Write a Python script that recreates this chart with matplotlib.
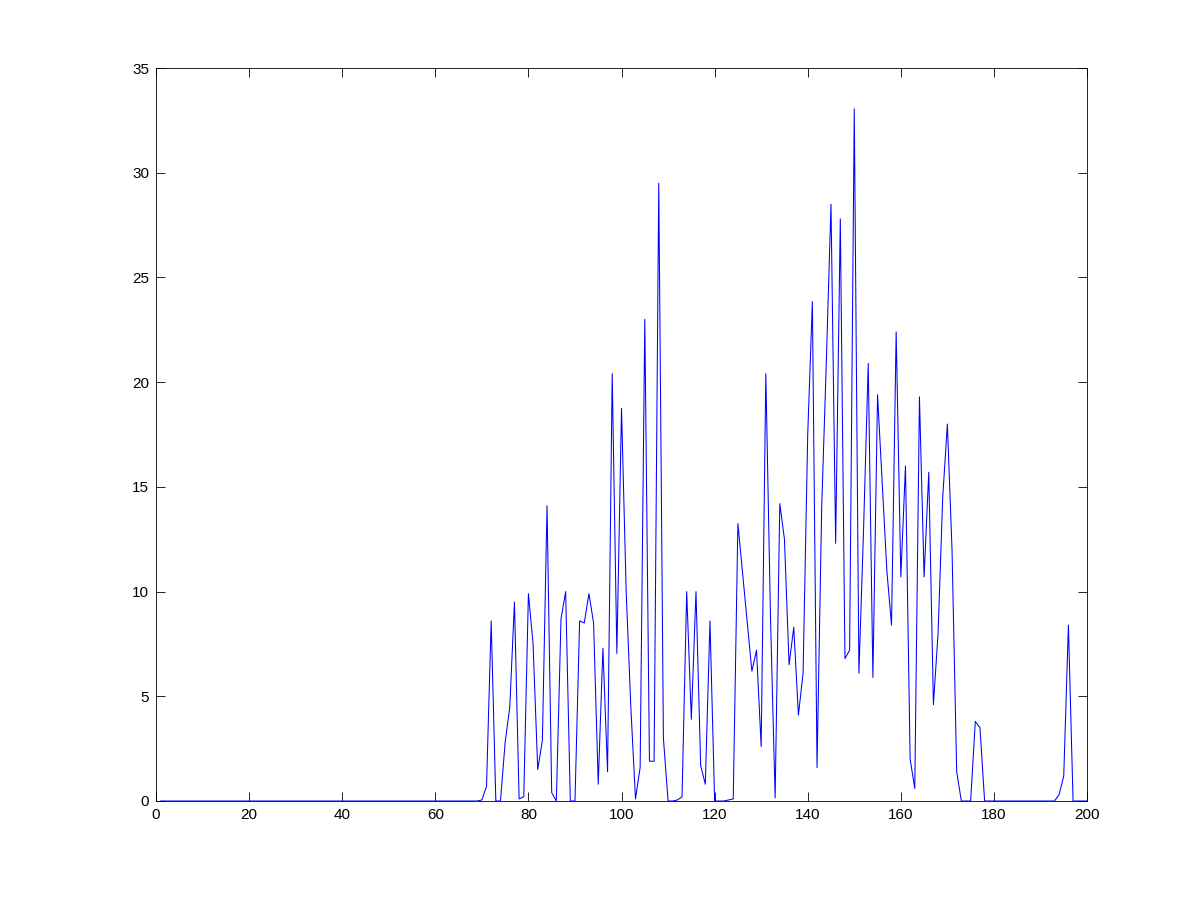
import matplotlib
matplotlib.use('Agg')
import matplotlib.pyplot as plt
import numpy as np

plt.rcParams['font.family'] = ['Liberation Sans', 'DejaVu Sans']

# values, one per sample (x = 1..200)
x = np.arange(1, 201)
zeros_start = [0.0] * 69                      # x = 1..69
active = [0.05, 0.7, 8.6, 0, 0, 2.8, 4.5, 9.5, 0.1, 0.2,        # 70-79
          9.9, 7.5, 1.5, 2.9, 14.1, 0.4, 0, 8.7, 10.0, 0,        # 80-89
          0, 8.6, 8.5, 9.9, 8.5, 0.8, 7.3, 1.4, 20.4, 7.05,      # 90-99
          18.75, 10.0, 4.5, 0.1, 1.6, 23.0, 1.9, 1.9, 29.5, 3.0, # 100-109
          0, 0, 0.05, 0.2, 10.0, 3.9, 10.0, 1.7, 0.8, 8.6,       # 110-119
          0, 0, 0, 0.05, 0.1, 13.25, 10.9, 8.6, 6.2, 7.2,        # 120-129
          2.6, 20.4, 8.8, 0.15, 14.2, 12.5, 6.5, 8.3, 4.1, 6.1,  # 130-139
          17.5, 23.85, 1.6, 14.0, 21.0, 28.5, 12.3, 27.8, 6.8, 7.2,  # 140-149
          33.05, 6.1, 13.0, 20.9, 5.9, 19.4, 15.2, 11.0, 8.4, 22.4,  # 150-159
          10.7, 16.0, 2.0, 0.6, 19.3, 10.7, 15.7, 4.6, 8.0, 14.5,    # 160-169
          18.0, 12.0, 1.4, 0, 0, 0, 3.8, 3.5, 0, 0]                  # 170-179
tail = [0.0] * 14 + [0.3, 1.2, 8.4, 0, 0, 0, 0]  # x = 180..200
y = np.array(zeros_start + active + tail)

xticks = np.arange(0, 201, 20)
yticks = np.arange(0, 36, 5)

fig = plt.figure(figsize=(12.01, 9), dpi=100)
ax = fig.add_axes([0.1299, 0.11, 0.7752, 0.8144])
ax.plot(x, y, color=(0, 0, 1), linewidth=0.75)

ax.set_xlim(0, 200)
ax.set_ylim(0, 35)
ax.set_xticks(xticks)
ax.set_yticks(yticks)
ax.tick_params(direction='in', length=6.5, width=0.6, top=True, right=True,
               labelsize=11, pad=5)
for s in ax.spines.values():
    s.set_linewidth(0.6)

fig.savefig('out.png', dpi=100)
